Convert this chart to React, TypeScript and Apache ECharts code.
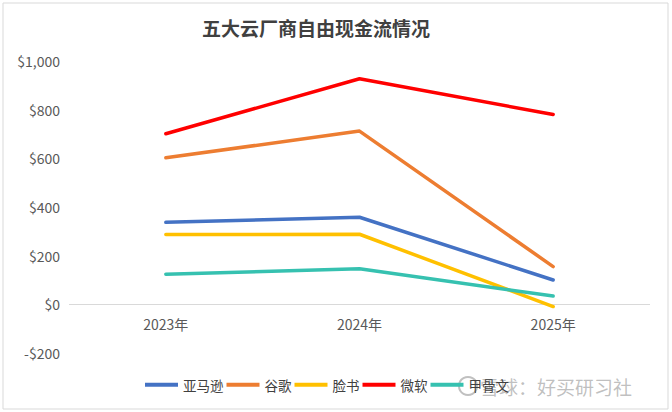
import React, { useEffect, useRef } from "react";
import * as echarts from "echarts";

const categories = ["2023年", "2024年", "2025年"];
const seriesNames = ["亚马逊", "谷歌", "脸书", "微软", "甲骨文"];
const amazon = [337, 358, 100];
const google = [602, 712, 155];
const meta = [287, 288, -9];
const microsoft = [701, 927, 780];
const oracle = [124, 146, 34];
const seriesValues = [amazon, google, meta, microsoft, oracle];
const colors = ["#4472C4", "#ED7D31", "#FFC000", "#FF0000", "#36C1B0"];
const yTicks = { min: -200, max: 1000, interval: 200 };

const FONT = "'Noto Sans CJK SC', 'Noto Sans', sans-serif";

export default function App() {
  const ref = useRef<HTMLDivElement>(null);
  useEffect(() => {
    if (!ref.current) return;
    const chart = echarts.init(ref.current, null, { renderer: "svg" });
    chart.setOption({
      animation: false,
      backgroundColor: "#ffffff",
      textStyle: { fontFamily: FONT },
      grid: { left: 69, right: 22, top: 61, bottom: 59, containLabel: false },
      xAxis: {
        type: "category",
        data: categories,
        position: "bottom",
        offset: -40,
        axisLine: { show: false, onZero: false },
        axisTick: { show: false },
        axisLabel: { color: "#595959", fontSize: 14, margin: 4, fontFamily: FONT },
      },
      yAxis: {
        type: "value",
        min: yTicks.min,
        max: yTicks.max,
        interval: yTicks.interval,
        axisLine: { show: false },
        axisTick: { show: false },
        splitLine: { show: false },
        axisLabel: {
          color: "#595959",
          fontSize: 14,
          margin: 9,
          fontFamily: FONT,
          formatter: (v: number) =>
            (v < 0 ? "-$" : "$") + Math.abs(v).toLocaleString("en-US"),
        },
      },
      legend: {
        left: 145,
        top: 378,
        padding: 0,
        itemWidth: 33,
        itemHeight: 4,
        itemGap: 3,
        icon: "rect",
        textStyle: { color: "#404040", fontSize: 13.5, fontFamily: FONT },
        data: seriesNames,
      },
      series: seriesNames.map((name, i) => ({
        name,
        type: "line",
        data: seriesValues[i],
        symbol: "none",
        color: colors[i],
        z: 3,
        lineStyle: { width: 3.5, color: colors[i], cap: "round", join: "round" },
        markLine:
          i === 0
            ? {
                silent: true,
                symbol: "none",
                label: { show: false },
                z: 1,
                lineStyle: { color: "#d9d9d9", width: 1, type: "solid" },
                data: [{ yAxis: 0 }],
              }
            : undefined,
      })),
      graphic: [
        {
          type: "rect",
          shape: { x: 3, y: 3, width: 665, height: 406 },
          style: { fill: "none", stroke: "#d9d9d9", lineWidth: 1 },
          silent: true,
        },
        {
          type: "text",
          x: 316,
          y: 27,
          style: {
            text: "五大云厂商自由现金流情况",
            fontSize: 19,
            fontWeight: "bold",
            fontFamily: FONT,
            fill: "#404040",
            align: "center",
            verticalAlign: "middle",
          },
        },
        {
          type: "circle",
          shape: { cx: 468, cy: 386, r: 9 },
          style: { fill: "none", stroke: "rgba(150,150,150,0.6)", lineWidth: 2 },
          silent: true,
        },
        {
          type: "text",
          x: 480,
          y: 386,
          style: {
            text: "雪球：好买研习社",
            fontSize: 19,
            fontFamily: FONT,
            fill: "rgba(150,150,150,0.6)",
            align: "left",
            verticalAlign: "middle",
          },
          silent: true,
        },
      ],
    });
    return () => chart.dispose();
  }, []);
  return (
    <div
      ref={ref}
      style={{ position: "fixed", left: 0, top: 0, width: 672, height: 412 }}
    />
  );
}
